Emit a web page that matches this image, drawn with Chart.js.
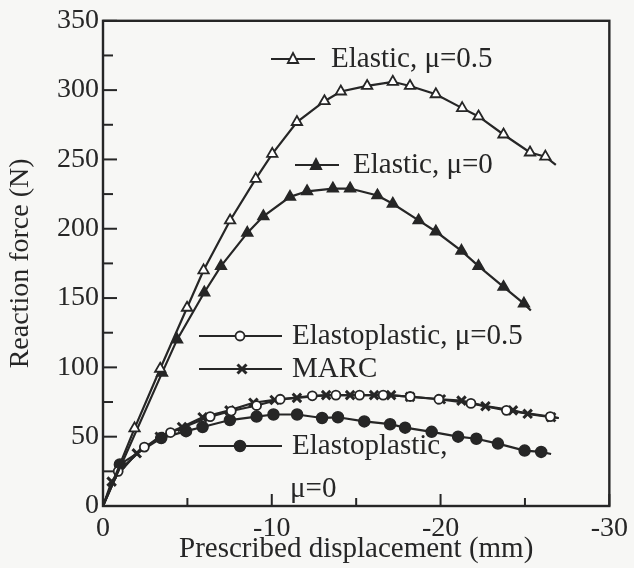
<!DOCTYPE html>
<html>
<head>
<meta charset="utf-8">
<script src="https://cdn.jsdelivr.net/npm/chart.js@4"></script>
<style>
html, body { margin: 0; padding: 0; background: #f7f7f5; }
#contenedor { width: 634px; height: 568px; }
</style>
</head>
<body>
<div id="contenedor"><canvas id="grafReaccion" width="634" height="568"></canvas></div>
<script>
// DATOS
const despElastico05 = [0, -1.87, -3.39, -4.98, -5.96, -7.53, -9.05, -10.03, -11.49, -13.12, -14.09, -15.65, -17.17, -18.19, -19.72, -21.28, -22.25, -23.73, -25.30, -26.21, -26.83];
const fuerzaElastico05 = [0, 56, 99, 143, 170, 206, 236, 254, 277, 292, 299, 303, 306, 303, 297, 287, 281, 268, 255, 252, 246];

const despElastico0 = [0, -3.50, -4.39, -6.00, -6.99, -8.55, -9.50, -11.08, -12.09, -13.62, -14.64, -16.26, -17.17, -18.70, -19.72, -21.24, -22.25, -23.73, -24.94, -25.35];
const fuerzaElastico0 = [0, 96, 120, 154, 173, 197, 209, 223, 227, 229, 229, 224, 218, 206, 198, 184, 173, 158, 146, 141];

const despEP05 = [0, -0.9, -2.45, -4.0, -6.35, -7.6, -9.1, -10.5, -12.4, -13.8, -15.2, -16.6, -18.2, -19.9, -21.8, -23.9, -26.5, -27.0];
const fuerzaEP05 = [0, 25, 42.5, 53, 64.5, 68.5, 72.5, 77, 79.5, 80, 80, 80, 79, 77, 74, 69, 64.5, 63.5];

const despMARC = [0, -0.51, -2.00, -3.36, -4.68, -5.90, -7.49, -8.91, -10.17, -11.49, -13.22, -14.64, -16.06, -17.07, -18.19, -20.02, -21.24, -22.66, -24.29, -25.16, -26.55, -27.0];
const fuerzaMARC = [0, 17.6, 38, 50, 57, 64, 69, 74.5, 76.5, 78, 80, 80, 80, 80, 78.7, 77, 76, 72, 69, 66.5, 64, 63.5];

const despEP0 = [0, -1.0, -3.45, -4.92, -5.90, -7.52, -9.1, -10.1, -11.50, -12.98, -13.92, -15.48, -17.01, -17.90, -19.47, -21.04, -22.12, -23.40, -24.98, -25.96, -26.55];
const fuerzaEP0 = [0, 30, 49, 54, 57, 62, 64.5, 66, 66, 63.5, 64, 61, 59, 56.5, 53.5, 50, 48.5, 45, 40, 39, 37.5];

const etiquetasSerie = ['Elastic, \u03bc=0.5', 'Elastic, \u03bc=0', 'Elastoplastic, \u03bc=0.5', 'MARC', 'Elastoplastic,'];

const TINTA = '#262626';
const FUENTE = 'Liberation Serif, Times New Roman, serif';

function puntos(xs, ys) {
    return xs.map((x, i) => ({ x: x, y: ys[i] }));
}

// sin marcador en el origen ni al final de la curva
function radio(r) {
    return ctx => (ctx.dataIndex === 0 || ctx.dataIndex === ctx.dataset.data.length - 1) ? 0 : r;
}

function serie(label, xs, ys, estilo, r, relleno, grosor) {
    return {
        label: label,
        data: puntos(xs, ys),
        borderColor: TINTA,
        borderWidth: 2.2,
        pointStyle: estilo,
        pointRadius: radio(r),
        pointHoverRadius: radio(r),
        pointBackgroundColor: relleno ? TINTA : '#ffffff',
        pointBorderColor: TINTA,
        pointBorderWidth: grosor,
        tension: 0
    };
}

// dibuja un marcador para la leyenda
function marcador(ctx, estilo, x, y, r, relleno, grosor) {
    ctx.save();
    ctx.lineWidth = grosor;
    ctx.strokeStyle = TINTA;
    ctx.fillStyle = relleno ? TINTA : '#ffffff';
    ctx.beginPath();
    if (estilo === 'triangle') {
        ctx.moveTo(x, y - r);
        ctx.lineTo(x + r * 0.866, y + r * 0.5 + 1);
        ctx.lineTo(x - r * 0.866, y + r * 0.5 + 1);
        ctx.closePath();
        ctx.fill();
        ctx.stroke();
    } else if (estilo === 'circle') {
        ctx.arc(x, y, r, 0, Math.PI * 2);
        ctx.fill();
        ctx.stroke();
    } else {
        const d = r * 0.75;
        ctx.moveTo(x - d, y - d); ctx.lineTo(x + d, y + d);
        ctx.moveTo(x + d, y - d); ctx.lineTo(x - d, y + d);
        ctx.stroke();
    }
    ctx.restore();
}

// MARCO, MARCAS HACIA DENTRO Y LEYENDA
const marcoYLeyenda = {
    id: 'marcoYLeyenda',
    afterDraw(chart) {
        const { ctx, chartArea: a, scales: { x, y } } = chart;
        ctx.save();
        ctx.strokeStyle = TINTA;
        ctx.lineWidth = 2.4;
        ctx.strokeRect(a.left, a.top, a.right - a.left, a.bottom - a.top);

        ctx.lineWidth = 2;
        x.ticks.forEach(t => {
            const px = x.getPixelForValue(t.value);
            const largo = t.value % 10 === 0 ? 12 : 8;
            ctx.beginPath();
            ctx.moveTo(px, a.bottom);
            ctx.lineTo(px, a.bottom - largo);
            ctx.stroke();
        });
        y.ticks.forEach(t => {
            const py = y.getPixelForValue(t.value);
            const largo = t.value % 50 === 0 ? 14 : 10;
            ctx.beginPath();
            ctx.moveTo(a.left, py);
            ctx.lineTo(a.left + largo, py);
            ctx.stroke();
        });

        // leyenda dentro del grafico
        const filas = [
            { x0: 271, x1: 315, xm: 293, y: 59, xt: 331, estilo: 'triangle', r: 6, relleno: false, g: 1.8 },
            { x0: 295, x1: 339, xm: 316, y: 165, xt: 353, estilo: 'triangle', r: 6, relleno: true, g: 1.8 },
            { x0: 199, x1: 282, xm: 240, y: 336, xt: 292, estilo: 'circle', r: 4.5, relleno: false, g: 1.8 },
            { x0: 199, x1: 282, xm: 242, y: 369, xt: 292, estilo: 'crossRot', r: 6, relleno: false, g: 3 },
            { x0: 199, x1: 282, xm: 240, y: 446, xt: 292, estilo: 'circle', r: 5.5, relleno: true, g: 1.5 }
        ];
        ctx.font = '29px ' + FUENTE;
        ctx.textBaseline = 'middle';
        ctx.textAlign = 'left';
        filas.forEach((f, i) => {
            ctx.strokeStyle = TINTA;
            ctx.lineWidth = 2.2;
            ctx.beginPath();
            ctx.moveTo(f.x0, f.y);
            ctx.lineTo(f.x1, f.y);
            ctx.stroke();
            marcador(ctx, f.estilo, f.xm, f.y, f.r, f.relleno, f.g);
            ctx.fillStyle = TINTA;
            ctx.fillText(etiquetasSerie[i], f.xt, f.y);
        });
        ctx.fillText('\u03bc=0', 290, 489);
        ctx.restore();
    }
};

const lienzo = document.getElementById('grafReaccion');

new Chart(lienzo, {
    type: 'line',
    data: {
        datasets: [
            serie(etiquetasSerie[0], despElastico05, fuerzaElastico05, 'triangle', 6, false, 1.8),
            serie(etiquetasSerie[1], despElastico0, fuerzaElastico0, 'triangle', 6, true, 1.8),
            serie(etiquetasSerie[2], despEP05, fuerzaEP05, 'circle', 4.5, false, 1.8),
            serie(etiquetasSerie[3], despMARC, fuerzaMARC, 'crossRot', 6, false, 3),
            serie('Elastoplastic, \u03bc=0', despEP0, fuerzaEP0, 'circle', 5.5, true, 1.5)
        ]
    },
    options: {
        responsive: false,
        animation: false,
        devicePixelRatio: 1,
        layout: { padding: { left: 0, top: 18, right: 22, bottom: 0 } },
        plugins: {
            legend: { display: false },
            tooltip: { enabled: false }
        },
        scales: {
            x: {
                type: 'linear',
                min: -30,
                max: 0,
                reverse: true,
                afterFit: s => { s.height = 62; },
                grid: { display: false, drawTicks: false },
                border: { display: false },
                ticks: {
                    stepSize: 5,
                    autoSkip: false,
                    maxRotation: 0,
                    padding: 6,
                    color: TINTA,
                    font: { family: FUENTE, size: 28 },
                    callback: v => (v % 10 === 0 ? String(v) : '')
                },
                title: {
                    display: true,
                    text: 'Prescribed displacement (mm)',
                    color: TINTA,
                    font: { family: FUENTE, size: 29 },
                    padding: { top: 0, bottom: 1 }
                }
            },
            y: {
                type: 'linear',
                min: 0,
                max: 350,
                afterFit: s => { s.width = 103; },
                grid: { display: false, drawTicks: false },
                border: { display: false },
                ticks: {
                    stepSize: 25,
                    autoSkip: false,
                    padding: 4,
                    color: TINTA,
                    font: { family: FUENTE, size: 28 },
                    callback: v => (v % 50 === 0 ? String(v) : '')
                },
                title: {
                    display: true,
                    text: 'Reaction force (N)',
                    color: TINTA,
                    font: { family: FUENTE, size: 28 },
                    padding: { top: 4, bottom: 0 }
                }
            }
        }
    },
    plugins: [marcoYLeyenda]
});
</script>
</body>
</html>
